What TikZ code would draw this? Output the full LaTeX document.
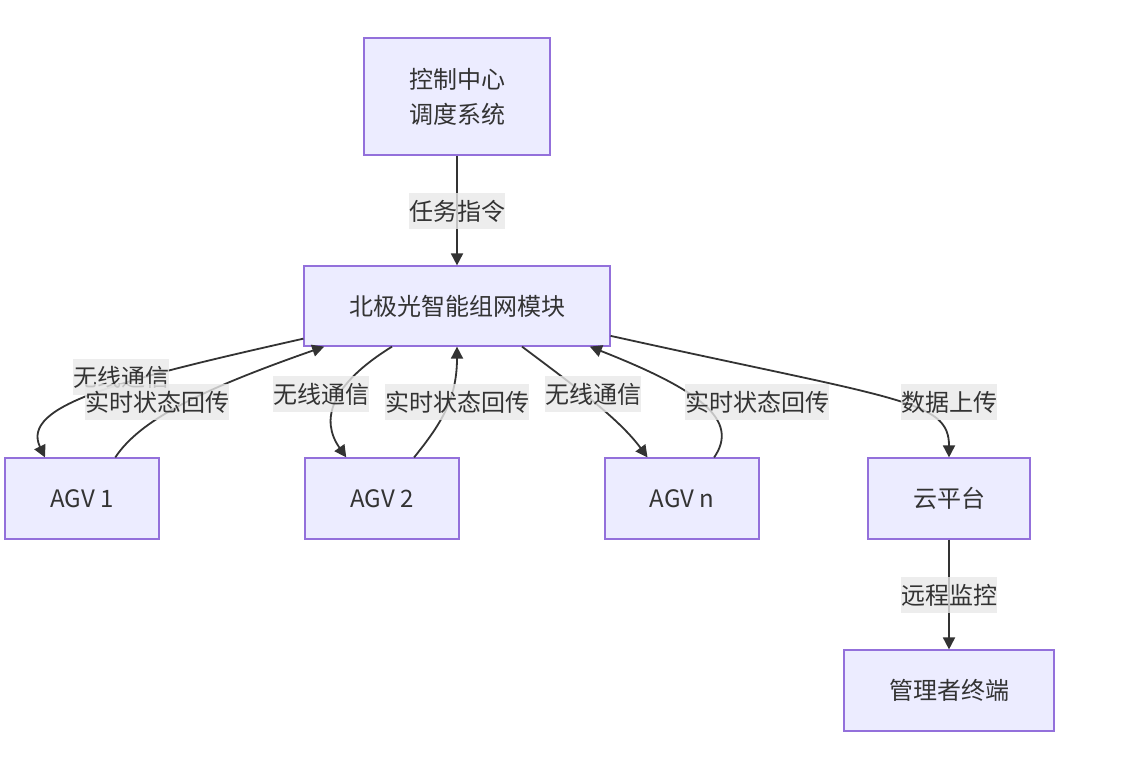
\documentclass[tikz,border=0pt]{standalone}
\usepackage{fontspec}
\newfontfamily\cjk{Noto Sans CJK SC}
\usetikzlibrary{arrows.meta}
\definecolor{boxfill}{HTML}{ECECFF}
\definecolor{boxline}{HTML}{9370DB}
\definecolor{linecol}{HTML}{333333}
\definecolor{lblfill}{HTML}{E8E8E8}

\begin{document}
\begin{tikzpicture}[x=0.5pt, y=-0.5pt,
                    font=\cjk\fontsize{12pt}{17.5pt}\selectfont,
                    boxnode/.style={rectangle, draw=boxline, fill=boxfill, line width=0.6pt, text=linecol, align=center, minimum height=40.5pt, inner sep=0pt},
                    lblnode/.style={fill=lblfill, fill opacity=0.8, text opacity=1, text=linecol, inner xsep=0pt, inner ysep=0pt, minimum height=18pt},
                    flow/.style={draw=linecol, line width=0.9pt, -{Triangle[length=6pt, width=6pt]}},]
    \useasboundingbox (0,0) rectangle (1128,772);
    % nodes
    \node[boxnode, minimum width=93pt, minimum height=58.5pt] (ctrl)  at (457,96.5)  {控制中心\\调度系统};
    \node[boxnode, minimum width=153pt, minimum height=40pt]  (mesh)  at (457,306)   {北极光智能组网模块};
    \node[boxnode, minimum width=77pt]                        (agva)  at (82,498.5)  {AGV 1};
    \node[boxnode, minimum width=77pt]                        (agvb)  at (382,498.5) {AGV 2};
    \node[boxnode, minimum width=77pt]                        (agvn)  at (682,498.5) {AGV n};
    \node[boxnode, minimum width=81pt]                        (cloud) at (949,498.5) {云平台};
    \node[boxnode, minimum width=105pt]                       (admin) at (949,690.5) {管理者终端};
    % lines
    \draw[flow] (ctrl.south) -- (mesh.north);
    \draw[flow] (mesh.192) .. controls (120,380) and (20,405) .. (agva.132);
    \draw[flow] (agva.51) .. controls (140,420) and (200,390) .. (mesh.197.5);
    \draw[flow] (mesh.212) .. controls (330,385) and (320,420) .. (agvb.131);
    \draw[flow] (agvb.52) .. controls (440,425) and (457,400) .. (mesh.south);
    \draw[flow] (mesh.-32) .. controls (580,390) and (620,420) .. (agvn.130);
    \draw[flow] (agvn.52) .. controls (740,420) and (700,390) .. (mesh.-17);
    \draw[flow] (mesh.-11) .. controls (900,400) and (949,400) .. (cloud.north);
    \draw[flow] (cloud.south) -- (admin.north);
    % labels
    \node[lblnode] (lbltask)  at (457,211) {任务指令};
    \node[lblnode] (lblwa)    at (121,377) {无线通信};
    \node[lblnode] (lblra)    at (157,402) {实时状态回传};
    \node[lblnode] (lblwb)    at (321,394) {无线通信};
    \node[lblnode] (lblrb)    at (457,402) {实时状态回传};
    \node[lblnode] (lblwn)    at (593,394) {无线通信};
    \node[lblnode] (lblrn)    at (757,402) {实时状态回传};
    \node[lblnode] (lblup)    at (949,402) {数据上传};
    \node[lblnode] (lblwatch) at (949,595) {远程监控};
\end{tikzpicture}
\end{document}
